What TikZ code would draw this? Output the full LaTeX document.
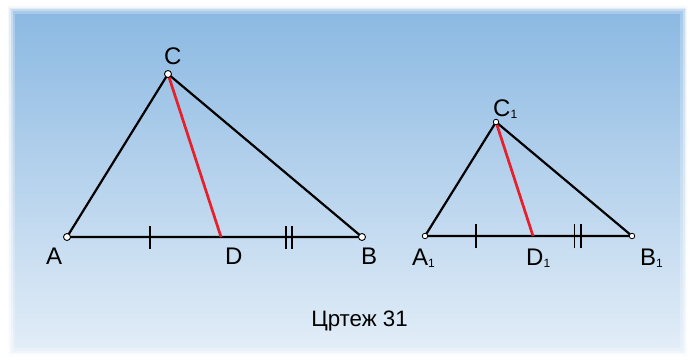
\documentclass[tikz,border=0pt]{standalone}
\usepackage{fontspec}
\setmainfont{Liberation Sans}
\usetikzlibrary{positioning}
\definecolor{skytop}{RGB}{138,184,226}
\definecolor{skymid}{RGB}{182,209,236}
\definecolor{skybot}{RGB}{228,238,248}
\definecolor{medred}{RGB}{232,30,40}
\newcommand{\ind}[1]{\raisebox{-2pt}{\fontsize{12}{12}\selectfont #1}}

\begin{document}
\begin{tikzpicture}[x=1pt,y=1pt,
    side/.style={line width=2.2pt,line cap=round},
    median/.style={line width=2.7pt,color=medred},
    tick/.style={line width=1.8pt},
    vertex/.style={circle,draw,fill=white,line width=0.9pt,inner sep=0pt,minimum size=7pt},
    svertex/.style={vertex,minimum size=5.5pt,line width=0.8pt},
    lbl/.style={inner sep=0pt,anchor=base west,font=\fontsize{24}{26}\selectfont}]
\useasboundingbox (0,0) rectangle (695,362);
\fill[white] (0,0) rectangle (695,362);
\shade[top color=skytop,middle color=skymid,bottom color=skybot] (8,7) rectangle (687,355);
% soft white edge
\foreach \w/\o in {14/.25,9/.35,5/.5,2/.7}
  \draw[white,line width=\w pt,opacity=\o] (8,7) rectangle (687,355);

% triangle ABC
\coordinate (A) at (67,125);
\coordinate (B) at (362,125);
\coordinate (C) at (168,288);
\coordinate (D) at (221,125);
\coordinate (tAD) at (150,125);
\coordinate (tDB) at (289,125);
\draw[side] (A) -- (B) -- (C) -- cycle;
\draw[median] (C) -- (D);
\draw[tick] (tAD) ++(0,-11.5) -- ++(0,23);
\draw[tick] (tDB) ++(-3.3,-11.5) -- ++(0,23);
\draw[tick] (tDB) ++(3.3,-11.5) -- ++(0,23);
\node[vertex] (vA) at (A) {};
\node[vertex] (vB) at (B) {};
\node[vertex] (vC) at (C) {};

\node[lbl] (lA) at (46,98) {A};
\node[lbl] (lD) at (225,98) {D};
\node[lbl] (lB) at (361,98) {B};
\node[lbl] (lC) at (164,297) {C};

% triangle A1B1C1
\coordinate (A1) at (425,126);
\coordinate (B1) at (632,126);
\coordinate (C1) at (496,240);
\coordinate (D1) at (533,126);
\coordinate (tAD1) at (476,126);
\coordinate (tDB1) at (577.7,126);
\draw[side] (A1) -- (B1) -- (C1) -- cycle;
\draw[median] (C1) -- (D1);
\draw[tick] (tAD1) ++(0,-12) -- ++(0,24);
\draw[tick] (tDB1) ++(-3.3,-12) -- ++(0,24);
\draw[tick] (tDB1) ++(3.3,-12) -- ++(0,24);
\node[svertex] (vA1) at (A1) {};
\node[svertex] (vB1) at (B1) {};
\node[svertex] (vC1) at (C1) {};

\node[lbl] (lA1) at (412,97) {A\ind{1}};
\node[lbl] (lD1) at (526,97) {D\ind{1}};
\node[lbl] (lB1) at (640,97) {B\ind{1}};
\node[lbl] (lC1) at (493,245) {C\ind{1}};

\node[inner sep=0pt,anchor=base,font=\fontsize{22.3}{25}\selectfont] (cap) at (359.5,36) {Цртеж 31};
\end{tikzpicture}
\end{document}
